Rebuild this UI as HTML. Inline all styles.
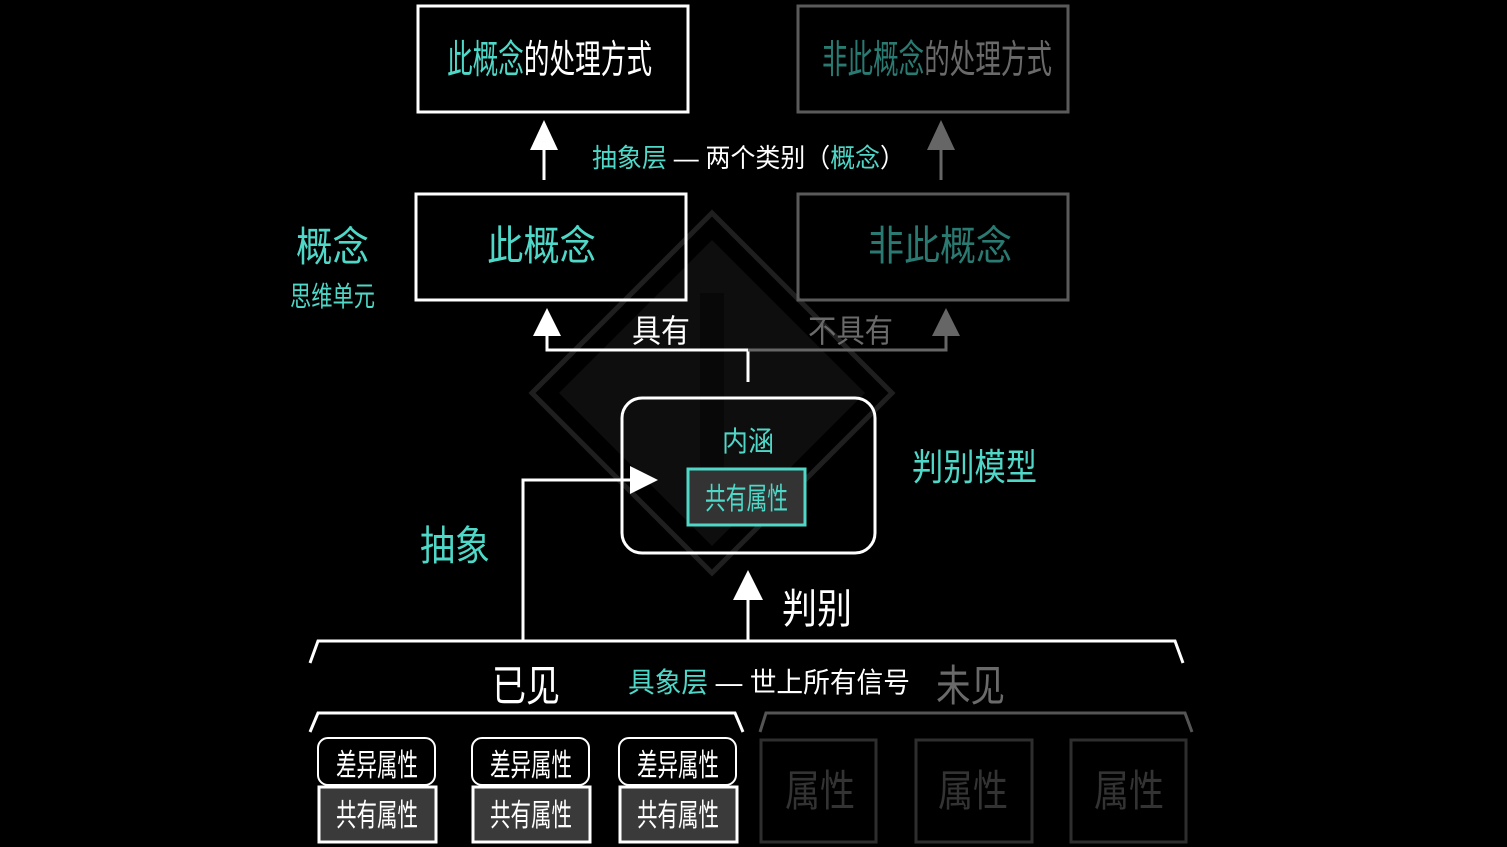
<!DOCTYPE html>
<html><head><meta charset="utf-8"><style>
html,body{margin:0;padding:0;background:#000;}
svg{display:block;}
text{font-family:"Liberation Sans","Noto Sans CJK SC",sans-serif;}
</style></head><body>
<svg width="1507" height="847" viewBox="0 0 1507 847" xmlns="http://www.w3.org/2000/svg">
<rect width="1507" height="847" fill="#000"/>
<!-- watermark diamond -->
<polygon points="712,213 892,393 712,573 532,393" fill="none" stroke="#1f1f1f" stroke-width="5"/>
<polygon points="712,240 865,393 712,546 559,393" fill="#0e0e0e"/>
<rect x="700" y="293" width="24" height="220" fill="#080808"/>

<!-- top boxes -->
<rect x="418" y="6" width="270" height="106" fill="none" stroke="#fff" stroke-width="3"/>
<text x="447" y="73" font-size="39" textLength="205" lengthAdjust="spacingAndGlyphs"><tspan fill="#4fd8c8">此概念</tspan><tspan fill="#fff">的处理方式</tspan></text>
<rect x="798" y="6" width="270" height="106" fill="none" stroke="#5a5a5a" stroke-width="3"/>
<text x="822" y="73" font-size="39" textLength="230" lengthAdjust="spacingAndGlyphs"><tspan fill="#2a7a72">非此概念</tspan><tspan fill="#6a6a6a">的处理方式</tspan></text>

<!-- arrows top -->
<line x1="544" y1="180" x2="544" y2="148" stroke="#fff" stroke-width="3"/>
<polygon points="544,120 530,150 558,150" fill="#fff"/>
<line x1="941" y1="180" x2="941" y2="148" stroke="#666" stroke-width="3"/>
<polygon points="941,120 927,150 955,150" fill="#666"/>
<text x="592" y="167" font-size="26" textLength="313" lengthAdjust="spacingAndGlyphs"><tspan fill="#4fd8c8">抽象层</tspan><tspan fill="#fff"> — 两个类别（</tspan><tspan fill="#4fd8c8">概念</tspan><tspan fill="#fff">）</tspan></text>

<!-- middle boxes -->
<rect x="416" y="194" width="270" height="106" fill="none" stroke="#fff" stroke-width="3"/>
<text x="487" y="260" font-size="41" fill="#4fd8c8" textLength="109" lengthAdjust="spacingAndGlyphs">此概念</text>
<rect x="798" y="194" width="270" height="106" fill="none" stroke="#5a5a5a" stroke-width="3"/>
<text x="868" y="260" font-size="41" fill="#2a7a72" textLength="144" lengthAdjust="spacingAndGlyphs">非此概念</text>

<text x="296" y="261" font-size="41" fill="#4fd8c8" textLength="73" lengthAdjust="spacingAndGlyphs">概念</text>
<text x="290" y="306" font-size="28" fill="#4fd8c8" textLength="85" lengthAdjust="spacingAndGlyphs">思维单元</text>

<!-- split connector -->
<polyline points="748,382 748,350 547,350 547,334" fill="none" stroke="#fff" stroke-width="3"/>
<polygon points="547,308 533,336 561,336" fill="#fff"/>
<polyline points="748,350 946,350 946,334" fill="none" stroke="#666" stroke-width="3"/>
<polygon points="946,308 932,336 960,336" fill="#666"/>
<text x="632" y="342" font-size="32" fill="#fff" textLength="58" lengthAdjust="spacingAndGlyphs">具有</text>
<text x="808" y="342" font-size="32" fill="#6a6a6a" textLength="85" lengthAdjust="spacingAndGlyphs">不具有</text>

<!-- model box -->
<rect x="622" y="398" width="253" height="155" rx="20" fill="none" stroke="#fff" stroke-width="3"/>
<text x="722" y="451" font-size="28" fill="#4fd8c8" textLength="52" lengthAdjust="spacingAndGlyphs">内涵</text>
<rect x="688" y="469" width="117" height="56" fill="#333" stroke="#4fd8c8" stroke-width="3"/>
<text x="705" y="509" font-size="30" fill="#4fd8c8" textLength="83" lengthAdjust="spacingAndGlyphs">共有属性</text>
<text x="912" y="480" font-size="37" fill="#4fd8c8" textLength="125" lengthAdjust="spacingAndGlyphs">判别模型</text>

<!-- abstraction -->
<polyline points="523,641 523,480 632,480" fill="none" stroke="#fff" stroke-width="3"/>
<polygon points="658,480 630,466 630,494" fill="#fff"/>
<text x="420" y="560" font-size="41" fill="#4fd8c8" textLength="70" lengthAdjust="spacingAndGlyphs">抽象</text>

<!-- judgement -->
<line x1="748" y1="641" x2="748" y2="598" stroke="#fff" stroke-width="3"/>
<polygon points="748,570 733,600 763,600" fill="#fff"/>
<text x="782" y="623" font-size="41" fill="#fff" textLength="70" lengthAdjust="spacingAndGlyphs">判别</text>

<!-- big brace -->
<polyline points="310,663 318,641 1175,641 1183,663" fill="none" stroke="#fff" stroke-width="3"/>
<text x="492" y="701" font-size="43" fill="#fff" textLength="68" lengthAdjust="spacingAndGlyphs">已见</text>
<text x="628" y="692" font-size="28" textLength="282" lengthAdjust="spacingAndGlyphs"><tspan fill="#4fd8c8">具象层</tspan><tspan fill="#fff"> — 世上所有信号</tspan></text>
<text x="936" y="701" font-size="43" fill="#6a6a6a" textLength="69" lengthAdjust="spacingAndGlyphs">未见</text>

<!-- sub braces -->
<polyline points="310,732 318,713 735,713 743,732" fill="none" stroke="#fff" stroke-width="3"/>
<polyline points="760,732 766,713 1185,713 1192,732" fill="none" stroke="#555" stroke-width="3"/>

<!-- seen boxes -->
<g stroke="#fff" stroke-width="2">
<rect x="318" y="738" width="117" height="47" rx="10" fill="#000"/>
<rect x="472" y="738" width="117" height="47" rx="10" fill="#000"/>
<rect x="619" y="738" width="117" height="47" rx="10" fill="#000"/>
</g>
<g stroke="#fff" stroke-width="3" fill="#3a3a3a">
<rect x="319" y="787" width="117" height="55"/>
<rect x="473" y="787" width="117" height="55"/>
<rect x="620" y="787" width="117" height="55"/>
</g>
<g font-size="31" fill="#fff">
<text x="336" y="776" textLength="82" lengthAdjust="spacingAndGlyphs">差异属性</text>
<text x="490" y="776" textLength="82" lengthAdjust="spacingAndGlyphs">差异属性</text>
<text x="637" y="776" textLength="82" lengthAdjust="spacingAndGlyphs">差异属性</text>
<text x="336" y="826" textLength="82" lengthAdjust="spacingAndGlyphs">共有属性</text>
<text x="490" y="826" textLength="82" lengthAdjust="spacingAndGlyphs">共有属性</text>
<text x="637" y="826" textLength="82" lengthAdjust="spacingAndGlyphs">共有属性</text>
</g>

<!-- unseen boxes -->
<g stroke="#2e2e2e" stroke-width="3" fill="none">
<rect x="761" y="740" width="115" height="102"/>
<rect x="916" y="740" width="116" height="102"/>
<rect x="1071" y="740" width="115" height="102"/>
</g>
<g font-size="43" fill="#333">
<text x="785" y="806" textLength="70" lengthAdjust="spacingAndGlyphs">属性</text>
<text x="938" y="806" textLength="70" lengthAdjust="spacingAndGlyphs">属性</text>
<text x="1094" y="806" textLength="70" lengthAdjust="spacingAndGlyphs">属性</text>
</g>
</svg>
</body></html>
